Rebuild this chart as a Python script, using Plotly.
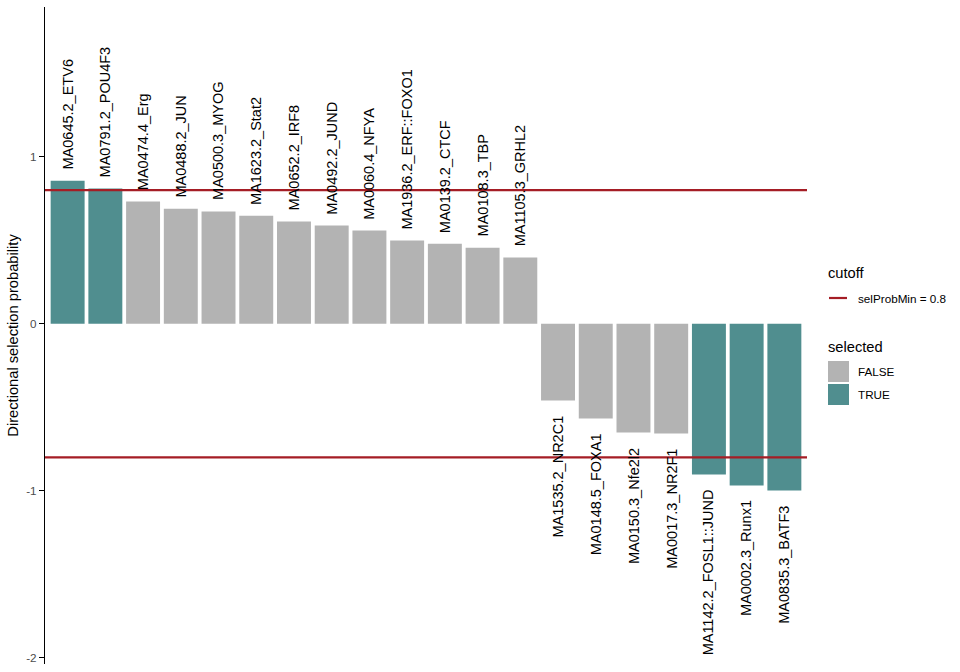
import plotly.graph_objects as go

motifs = [
    "MA0645.2_ETV6", "MA0791.2_POU4F3", "MA0474.4_Erg", "MA0488.2_JUN",
    "MA0500.3_MYOG", "MA1623.2_Stat2", "MA0652.2_IRF8", "MA0492.2_JUND",
    "MA0060.4_NFYA", "MA1936.2_ERF::FOXO1", "MA0139.2_CTCF", "MA0108.3_TBP",
    "MA1105.3_GRHL2", "MA1535.2_NR2C1", "MA0148.5_FOXA1", "MA0150.3_Nfe2l2",
    "MA0017.3_NR2F1", "MA1142.2_FOSL1::JUND", "MA0002.3_Runx1", "MA0835.3_BATF3",
]
values = [
    0.856, 0.810, 0.732, 0.689, 0.673, 0.647, 0.613, 0.589, 0.559, 0.499,
    0.479, 0.455, 0.397, -0.459, -0.567, -0.651, -0.657, -0.902, -0.968, -0.998,
]
selected = [
    True, True, False, False, False, False, False, False, False, False,
    False, False, False, False, False, False, False, True, True, True,
]
cutoff = 0.8
y_ticks = [-2, -1, 0, 1]

GRAY = "#B3B3B3"
TEAL = "#508E8F"
RED = "#A51D25"
FONT = "Liberation Sans, Arial, Helvetica, sans-serif"

W, H = 960, 672
L, R, T, B = 45, 153, 7, 8
PW, PH = W - L - R, H - T - B


def px(xpix):
    return (xpix - L) / PW


def py(ypix):
    return (H - B - ypix) / PH


fig = go.Figure()
fig.add_trace(go.Bar(
    x=motifs, y=values, width=0.9,
    marker=dict(color=[TEAL if s else GRAY for s in selected], line=dict(width=0)),
    showlegend=False, hoverinfo="x+y",
))

shapes = []
for c in (cutoff, -cutoff):
    shapes.append(dict(type="line", xref="paper", yref="y", x0=0, x1=1, y0=c, y1=c,
                       line=dict(color=RED, width=2.2), layer="above"))

annotations = []
for m, v in zip(motifs, values):
    annotations.append(dict(
        x=m, y=v, xref="x", yref="y", text=m, showarrow=False, textangle=-90,
        yanchor="bottom" if v >= 0 else "top", xanchor="center",
        yshift=9 if v >= 0 else -13,
        font=dict(family=FONT, size=14.5, color="black"),
    ))

# legend (manual, ggplot-style)
annotations.append(dict(x=px(826), y=py(273), xref="paper", yref="paper", text="cutoff",
                        showarrow=False, xanchor="left", yanchor="middle",
                        font=dict(family=FONT, size=14.7, color="black")))
shapes.append(dict(type="line", xref="paper", yref="paper", x0=px(829), x1=px(847),
                   y0=py(298), y1=py(298), line=dict(color=RED, width=2.2)))
annotations.append(dict(x=px(856), y=py(298), xref="paper", yref="paper",
                        text=f"selProbMin = {cutoff}", showarrow=False,
                        xanchor="left", yanchor="middle",
                        font=dict(family=FONT, size=11.7, color="black")))
annotations.append(dict(x=px(826), y=py(347), xref="paper", yref="paper", text="selected",
                        showarrow=False, xanchor="left", yanchor="middle",
                        font=dict(family=FONT, size=14.7, color="black")))
for lab, col, y0, y1 in (("FALSE", GRAY, 361, 382), ("TRUE", TEAL, 384, 405)):
    shapes.append(dict(type="rect", xref="paper", yref="paper", x0=px(828), x1=px(849),
                       y0=py(y1), y1=py(y0), fillcolor=col, line=dict(width=0)))
    annotations.append(dict(x=px(856), y=py((y0 + y1) / 2), xref="paper", yref="paper",
                            text=lab, showarrow=False, xanchor="left", yanchor="middle",
                            font=dict(family=FONT, size=11.7, color="black")))

fig.update_layout(
    width=W, height=H,
    margin=dict(l=L, r=R, t=T, b=B, autoexpand=False),
    paper_bgcolor="white", plot_bgcolor="white",
    font=dict(family=FONT, color="black"),
    bargap=0.1,
    showlegend=False,
    shapes=shapes, annotations=annotations,
    xaxis=dict(range=[-0.6, len(motifs) - 0.4], showticklabels=False, showline=False,
               showgrid=False, zeroline=False, ticks="", fixedrange=True),
    yaxis=dict(range=[-2.037, 1.897], tickvals=y_ticks, ticktext=[str(t) for t in y_ticks],
               showline=True, linecolor="black", linewidth=1.2, ticks="outside",
               ticklen=5, tickcolor="black", tickwidth=1.1, showgrid=False, zeroline=False,
               tickfont=dict(family=FONT, size=11.7, color="#4D4D4D"),
               title=dict(text="Directional selection probability", standoff=4,
                          font=dict(family=FONT, size=14.7, color="black"))),
)

fig.write_html("out.html")
